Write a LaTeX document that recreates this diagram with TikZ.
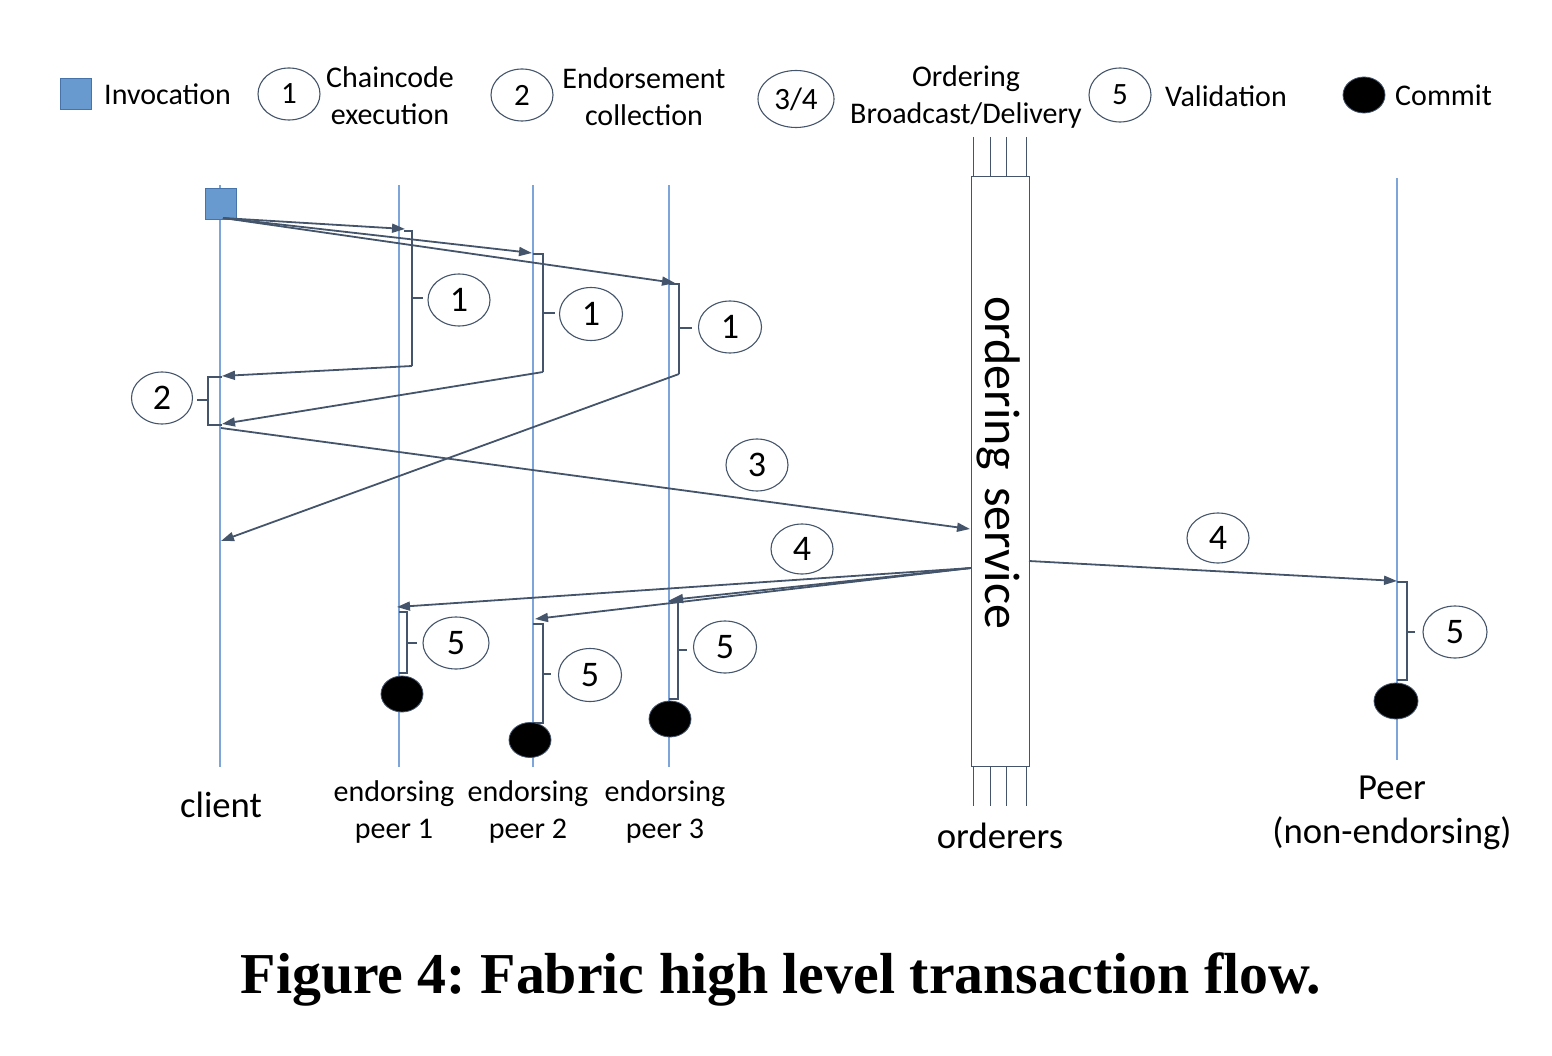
\documentclass[tikz,border=0pt]{standalone}
\usepackage{fontspec}
\setmainfont{Carlito}
\newfontfamily\capfont{Liberation Serif}
\usetikzlibrary{arrows.meta,shapes.geometric}
\definecolor{life}{RGB}{125,165,218}
\definecolor{dk}{RGB}{68,84,106}
\definecolor{inv}{RGB}{104,154,207}
\definecolor{invb}{RGB}{70,115,170}
\begin{document}
\begin{tikzpicture}[x=1pt,y=-1pt,
 lifeline/.style={draw=life,line width=1.3pt},
 msg/.style={draw=dk,line width=1.8pt,-{Triangle[length=13pt,width=9pt]}},
 brk/.style={draw=dk,line width=1.4pt},
 num/.style={ellipse,draw=dk,line width=1.1pt,minimum width=62pt,minimum height=52pt,inner sep=0pt,font=\fontsize{36}{40}\selectfont},
 lnum/.style={num,font=\fontsize{31}{34}\selectfont},
 commit/.style={ellipse,fill=black,draw=dk,line width=0.8pt,minimum width=42pt,minimum height=36pt,inner sep=0pt},
 lbl/.style={font=\fontsize{30}{37}\selectfont,align=center,inner sep=0pt},
 blbl/.style={font=\fontsize{36.7}{44}\selectfont,align=center,inner sep=0pt},
 invsq/.style={draw=invb,fill=inv,line width=0.8pt,minimum size=31pt,inner sep=0pt},
 orderline/.style={draw=dk,line width=1pt},
]
\useasboundingbox (0,0) rectangle (1552,1056);

% ---------- legend ----------
\node[invsq] (lsq) at (75.5,94) {};
\node[lbl,anchor=west] (linv) at (104,94) {Invocation};
\node[lnum] (l1) at (289,94) {1};
\node[lbl] (lchain) at (390,96) {Chaincode\\execution};
\node[lnum] (l2) at (522,95) {2};
\node[lbl] (lend) at (644,97) {Endorsement\\collection};
\node[lnum,minimum width=76pt,minimum height=57pt] (l34) at (796,99) {3/4};
\node[lbl] (lord) at (966,97) {Ordering\\Broadcast/Delivery};
\node[lnum,minimum height=54pt] (l5) at (1120,95) {5};
\node[lbl,anchor=west] (lval) at (1165,96) {Validation};
\node[commit] (lcom) at (1364,95) {};
\node[lbl,anchor=west] (lcomt) at (1395,95) {Commit};

% ---------- lifelines ----------
\coordinate (cT) at (220,185); \coordinate (cB) at (220,767);
\coordinate (e1T) at (399,185); \coordinate (e1B) at (399,767);
\coordinate (e2T) at (533,185); \coordinate (e2B) at (533,767);
\coordinate (e3T) at (669,185); \coordinate (e3B) at (669,767);
\coordinate (pT) at (1397,178); \coordinate (pB) at (1397,760);
\draw[lifeline] (cT) -- (cB);
\draw[lifeline] (e1T) -- (e1B);
\draw[lifeline] (e2T) -- (e2B);
\draw[lifeline] (e3T) -- (e3B);
\draw[lifeline] (pT) -- (pB);

% ---------- ordering service ----------
\node[draw=dk,line width=1pt,fill=white,minimum width=58pt,minimum height=589pt,inner sep=0pt] (os) at (1000,471.5) {};
\node[rotate=-90,font=\fontsize{50}{60}\selectfont,inner sep=0pt] (ost) at (999,463) {ordering\hspace{0.35em}service};
\foreach \xx/\nm in {973/a,990/b,1006/c,1026/d}{
  \coordinate (ot\nm) at (\xx,137);
  \coordinate (ob\nm) at (\xx,177);
  \coordinate (bt\nm) at (\xx,766);
  \coordinate (bb\nm) at (\xx,806);
  \draw[orderline] (ot\nm) -- (ob\nm);
  \draw[orderline] (bt\nm) -- (bb\nm);
}

% ---------- invocation ----------
\node[invsq] (sq) at (220.5,203.5) {};
\coordinate (sqo) at (223,218);
\coordinate (p1in) at (405,229);
\coordinate (p2in) at (532,253);
\coordinate (p3in) at (675,283);
\draw[msg] (sqo) -- (p1in);
\draw[msg] (sqo) -- (p2in);
\draw[msg] (sqo) -- (p3in);

% ---------- step 1 brackets ----------
\coordinate (b1t) at (412,231); \coordinate (b1m) at (412,298); \coordinate (b1b) at (412,366);
\draw[brk] (404,231) -- (b1t) -- (b1b);
\draw[brk] (b1m) -- (423,298);
\node[num] (n1a) at (459,300) {1};
\coordinate (b2t) at (543,254); \coordinate (b2m) at (543,313); \coordinate (b2b) at (543,372);
\draw[brk] (533,254) -- (b2t) -- (b2b);
\draw[brk] (b2m) -- (555,313);
\node[num,minimum width=63pt,minimum height=53pt] (n1b) at (591,314) {1};
\coordinate (b3t) at (679,284); \coordinate (b3m) at (679,328); \coordinate (b3b) at (679,374);
\draw[brk] (669,284) -- (b3t) -- (b3b);
\draw[brk] (b3m) -- (692,328);
\node[num,minimum width=63pt] (n1c) at (730,327) {1};

% ---------- returns to client ----------
\coordinate (r1) at (222,376);
\coordinate (r2) at (222,424);
\coordinate (r3) at (221,541);
\draw[msg] (b1b) -- (r1);
\draw[msg] (b2b) -- (r2);
\draw[msg] (b3b) -- (r3);

% ---------- step 2 bracket ----------
\coordinate (c2t) at (208,377); \coordinate (c2m) at (208,400); \coordinate (c2b) at (208,425);
\draw[brk] (222,377) -- (c2t) -- (c2b) -- (222,425);
\draw[brk] (c2m) -- (197,400);
\node[num,minimum width=61pt] (n2) at (162,398) {2};

% ---------- step 3 ----------
\coordinate (s3a) at (221,428);
\coordinate (s3b) at (970,529);
\draw[msg] (s3a) -- (s3b);
\node[num] (n3) at (757,465) {3};

% ---------- step 4 ----------
\coordinate (s4o) at (971,568);
\coordinate (q1) at (397,607);
\coordinate (q2) at (535,619);
\coordinate (q3) at (670,600);
\draw[msg] (s4o) -- (q1);
\draw[msg] (s4o) -- (q2);
\draw[msg] (s4o) -- (q3);
\node[num,minimum height=50pt] (n4a) at (802,549) {4};
\coordinate (s4r) at (1029,561);
\coordinate (q4) at (1397,581);
\draw[msg] (s4r) -- (q4);
\node[num,minimum height=50pt] (n4b) at (1218,538) {4};

% ---------- step 5 brackets & commits ----------
\draw[brk] (399,612) -- (407,612) -- (407,673) -- (399,673);
\draw[brk] (407,643) -- (417,643);
\node[num,minimum width=66pt] (n5a) at (456,643) {5};
\node[commit] (k1) at (402,694) {};

\draw[brk] (533,624) -- (543,624) -- (543,723) -- (533,723);
\draw[brk] (543,674) -- (551,674);
\node[num,minimum width=63pt,minimum height=53pt] (n5b) at (590,675) {5};
\node[commit,minimum height=35pt] (k2) at (530,740) {};

\draw[brk] (669,601) -- (678,601) -- (678,699) -- (669,699);
\draw[brk] (678,650) -- (687,650);
\node[num,minimum width=63pt] (n5c) at (725,647) {5};
\node[commit] (k3) at (670,719) {};

\draw[brk] (1397,582) -- (1407,582) -- (1407,680) -- (1397,680);
\draw[brk] (1407,632) -- (1415,632);
\node[num,minimum width=64pt] (n5d) at (1455,632) {5};
\node[commit,minimum width=44pt] (k4) at (1396,701) {};

% ---------- bottom labels ----------
\node[blbl] (tclient) at (221,805) {client};
\node[lbl] (te1) at (394,812) {endorsing\\peer 1};
\node[lbl] (te2) at (528,812) {endorsing\\peer 2};
\node[lbl] (te3) at (665,812) {endorsing\\peer 3};
\node[blbl] (tord) at (1000,836) {orderers};
\node[blbl] (tpeer) at (1392,813) {Peer\\(non-endorsing)};

% ---------- caption ----------
\node[inner sep=0pt] (cap) at (781,980) {\resizebox{1080pt}{!}{\frenchspacing\capfont\bfseries Figure 4: Fabric high level transaction flow.}};
\end{tikzpicture}
\end{document}
